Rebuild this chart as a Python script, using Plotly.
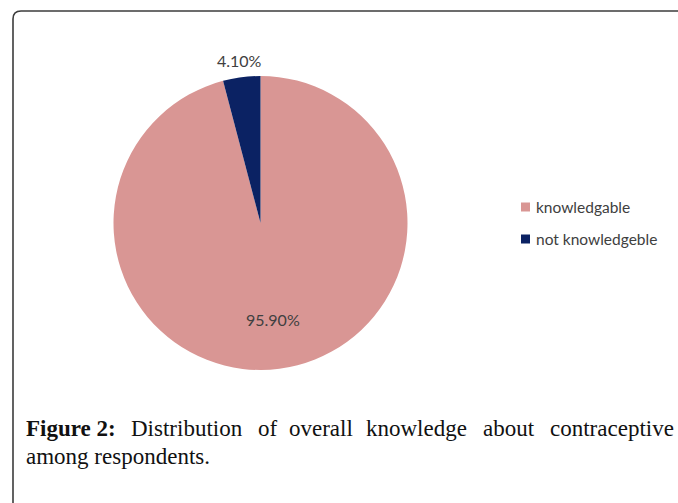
import math
import plotly.graph_objects as go

W, H = 678, 503

categories = ["knowledgable", "not knowledgeble"]
percentages = [95.9, 4.1]
slice_colors = ["#D99694", "#0B2263"]
label_radius_frac = [0.66, 1.115]   # inside label / outside label

caption_bold = "Figure 2:"
caption_line1 = ["Distribution", "of", "overall", "knowledge", "about", "contraceptive"]
caption_line1_cx = [187, 268, 321, 417, 509, 612]
caption_line2 = "among respondents."


def px(x):
    return x / W


def py(y):
    return 1 - y / H


# pie geometry (pixels)
PL, PR, PT, PB = 113.5, 407.5, 76, 370
CX, CY, R = (PL + PR) / 2, (PT + PB) / 2, (PR - PL) / 2

fig = go.Figure()
fig.add_trace(go.Pie(
    labels=categories,
    values=percentages,
    sort=False,
    direction="clockwise",
    rotation=0,
    marker=dict(colors=slice_colors, line=dict(width=0)),
    textinfo="none",
    domain=dict(x=[px(PL), px(PR)], y=[py(PB), py(PT)]),
    hoverinfo="label+percent",
    showlegend=False,
))

label_font = dict(family="Lato", size=16, color="#404040")
annotations = []

# data labels placed along each slice's mid-angle
total = sum(percentages)
cum = 0.0
for v, f in zip(percentages, label_radius_frac):
    mid = 2 * math.pi * (cum + v / 2) / total
    cum += v
    lx = CX + f * R * math.sin(mid)
    ly = CY - f * R * math.cos(mid)
    annotations.append(dict(x=px(lx), y=py(ly), xref="paper", yref="paper",
                            text=f"{v:.2f}%", showarrow=False,
                            xanchor="center", yanchor="middle", font=label_font))

# legend (manual, to match spacing)
shapes = []
LEG_X, LEG_Y0, LEG_DY, SQ = 521, 207, 32, 9
for i, (cat, col) in enumerate(zip(categories, slice_colors)):
    yy = LEG_Y0 + i * LEG_DY
    shapes.append(dict(type="rect", xref="paper", yref="paper",
                       x0=px(LEG_X), x1=px(LEG_X + SQ), y0=py(yy + SQ / 2), y1=py(yy - SQ / 2),
                       fillcolor=col, line=dict(width=0)))
    annotations.append(dict(x=px(LEG_X + SQ + 4), y=py(yy), xref="paper", yref="paper",
                            text=cat, showarrow=False, xanchor="left", yanchor="middle",
                            font=dict(family="Lato", size=15.5, color="#404040")))

# frame with rounded top-left corner
r = 8
x0, y0 = 13, 11
path = (f"M {px(x0)},{py(H + 5)} L {px(x0)},{py(y0 + r)} "
        f"Q {px(x0)},{py(y0)} {px(x0 + r)},{py(y0)} L {px(W + 5)},{py(y0)}")
shapes.append(dict(type="path", xref="paper", yref="paper", path=path,
                   line=dict(color="#3C3C3C", width=1.6)))

cap_font = dict(family="Liberation Serif", size=23, color="#111111")
annotations.append(dict(x=px(24), y=py(428), xref="paper", yref="paper",
                        text=f"<b>{caption_bold}</b>", showarrow=False,
                        xanchor="left", yanchor="middle", font=cap_font))
for word, wx in zip(caption_line1, caption_line1_cx):
    annotations.append(dict(x=px(wx), y=py(428), xref="paper", yref="paper",
                            text=word, showarrow=False, xanchor="center", yanchor="middle",
                            font=cap_font))
annotations.append(dict(x=px(24), y=py(456), xref="paper", yref="paper",
                        text=caption_line2, showarrow=False, xanchor="left", yanchor="middle",
                        font=cap_font))

fig.update_layout(
    width=W, height=H,
    margin=dict(l=0, r=0, t=0, b=0),
    paper_bgcolor="white",
    plot_bgcolor="white",
    showlegend=False,
    shapes=shapes,
    annotations=annotations,
)

fig.write_html("out.html")
